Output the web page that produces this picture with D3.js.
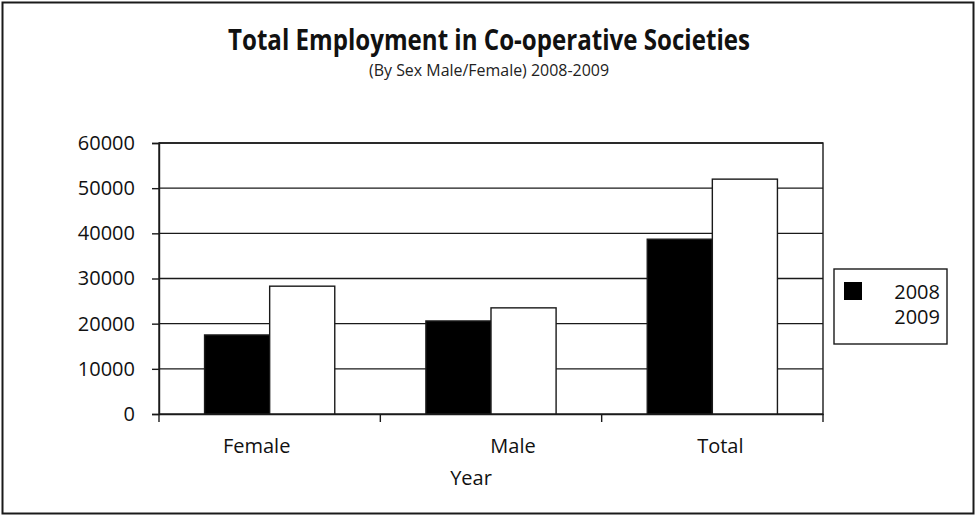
<!DOCTYPE html>
<html><head><meta charset="utf-8">
<script src="https://cdn.jsdelivr.net/npm/d3@7"></script>
<style>body{margin:0;background:#fff}svg{display:block}</style>
</head><body><svg id="c" width="976" height="516"></svg>
<script>
const categories = ["Female", "Male", "Total"];
const seriesNames = ["2008", "2009"];
const values2008 = [17500, 20600, 38700];
const values2009 = [28300, 23500, 52000];
const yTicks = [0, 10000, 20000, 30000, 40000, 50000, 60000];
const titleText = "Total Employment in Co-operative Societies";
const subtitleText = "(By Sex Male/Female) 2008-2009";
const xTitle = "Year";

const svg = d3.select("#c");
const font = "'Open Sans', 'Noto Sans', sans-serif";
const m = {l:159, r:823, t:143, b:414};
const ink = "#1a1a1a";
const labelShift = {Female:-13, Male:22, Total:8};

svg.append("rect").attr("x",2.5).attr("y",2.5).attr("width",971).attr("height",511)
  .attr("fill","#fff").attr("stroke",ink).attr("stroke-width",2);

svg.append("text").attr("x",489).attr("y",50).attr("text-anchor","middle")
  .attr("font-family",font).attr("font-weight","bold").attr("font-size",29)
  .attr("textLength",522).attr("lengthAdjust","spacingAndGlyphs").attr("fill","#111").text(titleText);
svg.append("text").attr("x",489).attr("y",76).attr("text-anchor","middle")
  .attr("font-family",font).attr("font-size",17)
  .attr("textLength",240).attr("lengthAdjust","spacingAndGlyphs").attr("fill","#222").text(subtitleText);

const y = d3.scaleLinear().domain([0,60000]).range([m.b, m.t]);
const x = d3.scaleBand().domain(categories).range([m.l, m.r]).paddingInner(0).paddingOuter(0);
const xs = d3.scaleBand().domain(seriesNames).range([0, x.bandwidth()]).paddingInner(0).paddingOuter(0.7);

svg.append("rect").attr("x",m.l).attr("y",m.t).attr("width",m.r-m.l).attr("height",m.b-m.t)
  .attr("fill","none").attr("stroke",ink).attr("stroke-width",1.4);
svg.append("g").selectAll("line").data(yTicks.filter(d=>d>0)).join("line")
  .attr("x1",m.l).attr("x2",m.r).attr("y1",d=>y(d)).attr("y2",d=>y(d))
  .attr("stroke",ink).attr("stroke-width",1.4);

const rows = categories.map((c,i)=>({c, vals:[values2008[i], values2009[i]]}));
const g = svg.append("g");
rows.forEach(r=>{
  r.vals.forEach((v,j)=>{
    g.append("rect").attr("x",x(r.c)+xs(seriesNames[j])).attr("y",y(v))
      .attr("width",xs.bandwidth()).attr("height",y(0)-y(v))
      .attr("fill", j===0 ? "#000" : "#fff").attr("stroke",ink).attr("stroke-width",1.4);
  });
});

const ya = d3.axisLeft(y).tickValues(yTicks).tickSize(7).tickPadding(17).tickFormat(d3.format("d"));
const yg = svg.append("g").attr("transform",`translate(${m.l},0)`).call(ya);
yg.select(".domain").attr("stroke",ink).attr("stroke-width",1.4);
yg.selectAll(".tick line").attr("stroke",ink).attr("stroke-width",1.4);
yg.selectAll("text").attr("font-family",font).attr("font-size",20).attr("fill","#111");

const xa = d3.axisBottom(x).tickSize(0).tickPadding(25);
const xg = svg.append("g").attr("transform",`translate(0,${m.b})`).call(xa);
xg.select(".domain").attr("stroke",ink).attr("stroke-width",1.4);
xg.selectAll("text").attr("font-family",font).attr("font-size",20).attr("fill","#111")
  .attr("dx", d=>labelShift[d]);
xg.selectAll(".sep").data(categories).join("line").attr("class","sep")
  .attr("x1",d=>x(d)+x.bandwidth()).attr("x2",d=>x(d)+x.bandwidth())
  .attr("y1",0).attr("y2",8).attr("stroke",ink).attr("stroke-width",1.4);
xg.append("line").attr("x1",m.l).attr("x2",m.l).attr("y1",0).attr("y2",8).attr("stroke",ink).attr("stroke-width",1.4);

svg.append("text").attr("x",471).attr("y",485).attr("text-anchor","middle")
  .attr("font-family",font).attr("font-size",20).attr("fill","#111").text(xTitle);

const lg = svg.append("g");
lg.append("rect").attr("x",834).attr("y",269).attr("width",113).attr("height",75)
  .attr("fill","#fff").attr("stroke",ink).attr("stroke-width",1.4);
seriesNames.forEach((s,i)=>{
  if(i===0) lg.append("rect").attr("x",844).attr("y",282).attr("width",18).attr("height",18).attr("fill","#000");
  lg.append("text").attr("x",940).attr("y",299+i*25).attr("text-anchor","end")
    .attr("font-family",font).attr("font-size",20).attr("fill","#111").text(s);
});
</script></body></html>
